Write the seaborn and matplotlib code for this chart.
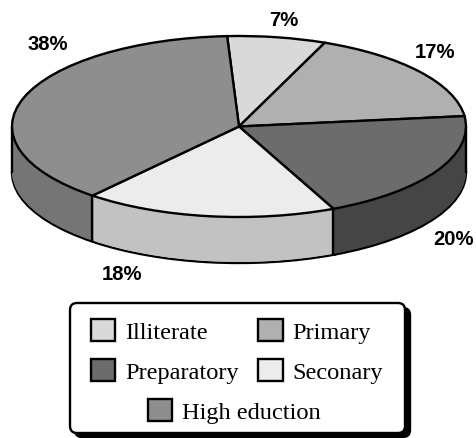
import numpy as np
import matplotlib
matplotlib.use("Agg")
import matplotlib.pyplot as plt
from matplotlib.patches import FancyBboxPatch
import seaborn as sns

# Datos
categorias = ["Illiterate", "Primary", "Preparatory", "Seconary", "High eduction"]
valores = [7, 17, 20, 18, 38]
etiquetas = ["7%", "17%", "20%", "18%", "38%"]

colores_top = ["#d9d9d9", "#b0b0b0", "#6c6c6c", "#ececec", "#8e8e8e"]
colores_lado = ["#a8a8a8", "#8a8a8a", "#454545", "#c2c2c2", "#757575"]

sns.set_theme(style="white")
plt.rcParams["font.family"] = ["Liberation Sans"]
plt.rcParams["text.color"] = "black"

W, H = 476, 439
cx, cy = 239, 127.5    # centro de la elipse en pixeles
a, b = 227, 90.5       # semiejes
prof = 46 / b          # grosor del disco
inicio = 93
lw = 1.7

fig = plt.figure(figsize=(W / 100, H / 100), dpi=100)
ax = fig.add_axes([0, 0, 1, 1])

# Lado del disco: varias tortas apiladas, la de abajo con contorno
paleta_lado = sns.color_palette(colores_lado)
for d in np.linspace(prof, 0, 47):
    ancho = lw if d == prof else 0
    ax.pie(valores, colors=paleta_lado, startangle=inicio, counterclock=False,
           center=(0, -d), wedgeprops={"edgecolor": "black", "linewidth": ancho})

# Cara superior
wedges, _ = ax.pie(valores, colors=sns.color_palette(colores_top), startangle=inicio,
                   counterclock=False, wedgeprops={"edgecolor": "black", "linewidth": lw})

# Separadores verticales del lado
acum = np.cumsum(valores)
for c in acum[2:4]:
    ang = np.deg2rad(inicio - c * 3.6)
    ax.vlines(np.cos(ang), np.sin(ang) - prof, np.sin(ang), color="black", lw=lw)
ax.vlines([-1, 1], -prof, 0, color="black", lw=lw)

ax.set_aspect("auto")
ax.set_xlim(-cx / a, (W - cx) / a)
ax.set_ylim((cy - H) / b, cy / b)

# Capa en pixeles para textos y leyenda
lax = fig.add_axes([0, 0, 1, 1], zorder=5)
lax.set_xlim(0, W)
lax.set_ylim(H, 0)
lax.axis("off")

pos_etiquetas = [(284, 20), (435, 53), (454, 240), (122, 275), (48, 45)]
for txt, (x, y) in zip(etiquetas, pos_etiquetas):
    lax.text(x, y, txt, ha="center", va="center", fontsize=14.6, fontweight="bold")

# Caja de la leyenda con sombra
estilo = "round,pad=0,rounding_size=7"
lax.add_patch(FancyBboxPatch((75, 309), 335, 129, boxstyle=estilo, fc="black", ec="black", lw=lw))
lax.add_patch(FancyBboxPatch((70, 304), 335, 130, boxstyle=estilo, fc="white", ec="black", lw=lw))

opts = dict(frameon=False, handlelength=1.0, handleheight=1.0,
            handletextpad=0.4, labelspacing=0.64, borderpad=0, borderaxespad=0,
            prop={"family": "Liberation Serif", "size": 17.6}, bbox_transform=lax.transData)
ley1 = lax.legend([wedges[i] for i in [0, 2, 1, 3]], [categorias[i] for i in [0, 2, 1, 3]],
                  ncol=2, columnspacing=0.8, loc="upper left", bbox_to_anchor=(91, 320), **opts)
lax.add_artist(ley1)
lax.legend([wedges[4]], [categorias[4]], loc="upper left", bbox_to_anchor=(148, 400), **opts)

plt.savefig("out.png", dpi=100)
